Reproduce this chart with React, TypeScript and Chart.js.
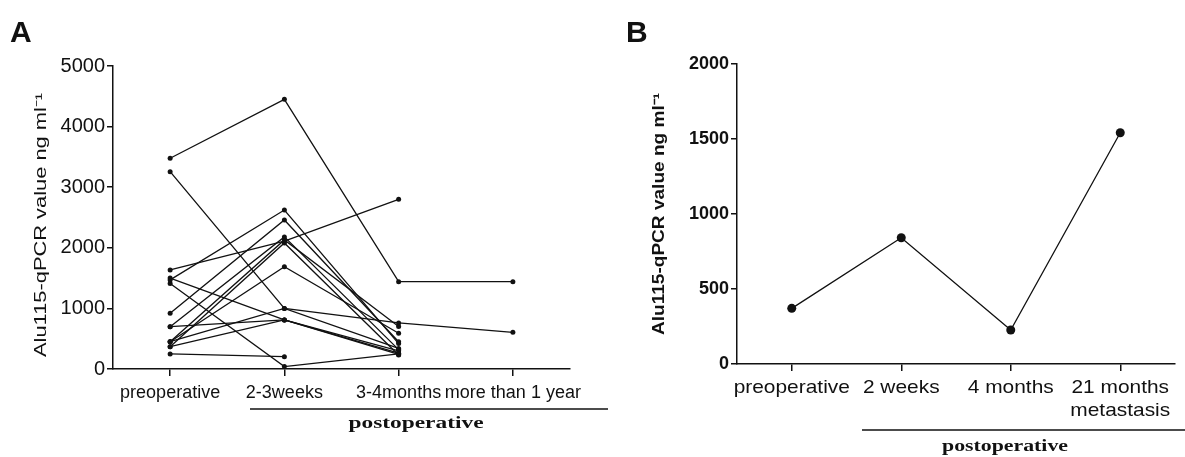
import { useEffect, useRef } from "react";
import { Chart, registerables } from "chart.js";

Chart.register(...registerables);

// ---------- Panel A data ----------
const categoriesA = ["preoperative", "2-3weeks", "3-4months", "more than 1 year"];
const yTicksA = [0, 1000, 2000, 3000, 4000, 5000];
const patient01 = [3477, 4450, 1441, 1441];
const patient02 = [3256, 1000, 760, 606];
const patient03 = [1634, 2110, 2800, null];
const patient04 = [1470, 2624, 420, null];
const patient05 = [1410, 40, 250, null];
const patient06 = [1500, 810, 240, null];
const patient07 = [919, 2459, 450, null];
const patient08 = [698, 2180, 320, null];
const patient09 = [451, 1688, 590, null];
const patient10 = [368, 2080, 230, null];
const patient11 = [451, 2130, 700, null];
const patient12 = [248, 203, null, null];
const patient13 = [368, 810, 260, null];
const patient14 = [698, 810, 300, null];
const patient15 = [451, 1000, 340, null];
const patientsA = [
  patient01, patient02, patient03, patient04, patient05,
  patient06, patient07, patient08, patient09, patient10,
  patient11, patient12, patient13, patient14, patient15,
];

// ---------- Panel B data ----------
const categoriesB = [["preoperative"], ["2 weeks"], ["4 months"], ["21 months", "metastasis"]];
const valuesB = [371, 842, 227, 1542];
const yTicksB = [0, 500, 1000, 1500, 2000];

const yTitle = "Alu115-qPCR value ng ml\u207B\u00B9";
const groupLabel = "postoperative";
const INK = "#111";
const SANS = "'Liberation Sans', Arial, sans-serif";
const SERIF = "'Liberation Serif', 'Times New Roman', serif";

function drawText(
  ctx: CanvasRenderingContext2D,
  text: string,
  x: number,
  y: number,
  font: string,
  opts: { sx?: number; target?: number; rotate?: boolean; align?: CanvasTextAlign; baseline?: CanvasTextBaseline }
) {
  ctx.save();
  ctx.font = font;
  ctx.fillStyle = INK;
  ctx.textAlign = opts.align || "center";
  ctx.textBaseline = opts.baseline || "middle";
  const w = ctx.measureText(text).width;
  let sx = opts.sx || 1;
  if (opts.target) sx = opts.target / w;
  ctx.translate(x, y);
  if (opts.rotate) ctx.rotate(-Math.PI / 2);
  ctx.scale(sx, 1);
  ctx.fillText(text, 0, 0);
  ctx.restore();
}

type Decor = {
  letter: string;
  letterX: number;
  letterY: number;
  titleX: number;
  titleY: number;
  titleLen: number;
  titleFont: string;
  labels: (string | string[])[];
  labelY: number;
  labelLineGap: number;
  labelFont: string;
  labelStretch: number;
  lineX1: number;
  lineX2: number;
  lineY: number;
  groupX: number;
  groupY: number;
  groupLen: number;
  groupFont: string;
};

function decorPlugin(d: Decor) {
  return {
    id: "decor",
    afterDraw(chart: any) {
      const ctx: CanvasRenderingContext2D = chart.ctx;
      const xs = chart.scales.x;
      drawText(ctx, d.letter, d.letterX, d.letterY, `bold 30px ${SANS}`, { align: "left", baseline: "alphabetic" });
      drawText(ctx, yTitle, d.titleX, d.titleY, d.titleFont, { target: d.titleLen, rotate: true });
      d.labels.forEach((lab, i) => {
        const x = xs.getPixelForValue(i);
        const lines = Array.isArray(lab) ? lab : [lab];
        lines.forEach((ln, j) => {
          drawText(ctx, ln, x, d.labelY + j * d.labelLineGap, d.labelFont, { sx: d.labelStretch });
        });
      });
      ctx.save();
      ctx.strokeStyle = INK;
      ctx.lineWidth = 1.5;
      ctx.beginPath();
      ctx.moveTo(d.lineX1, d.lineY);
      ctx.lineTo(d.lineX2, d.lineY);
      ctx.stroke();
      ctx.restore();
      drawText(ctx, groupLabel, d.groupX, d.groupY, d.groupFont, { target: d.groupLen });
    },
  };
}

function axisOptions(yMax: number, yStep: number, yTicks: number[], yWidth: number, xHeight: number, yFont: any) {
  return {
    x: {
      type: "category" as const,
      offset: true,
      afterFit: (s: any) => { s.height = xHeight; },
      border: { display: true, color: INK, width: 1.5 },
      grid: { display: true, drawOnChartArea: false, drawTicks: true, tickLength: 7, color: INK, lineWidth: 1.5 },
      ticks: { display: false },
    },
    y: {
      min: 0,
      max: yMax,
      afterFit: (s: any) => { s.width = yWidth; },
      afterBuildTicks: (s: any) => { s.ticks = yTicks.map((v) => ({ value: v })); },
      border: { display: true, color: INK, width: 1.5 },
      grid: { display: true, drawOnChartArea: false, drawTicks: true, tickLength: 6, color: INK, lineWidth: 1.5 },
      ticks: { stepSize: yStep, color: INK, font: yFont, padding: 2, callback: (v: any) => String(v) },
    },
  };
}

function PanelA() {
  const ref = useRef<HTMLCanvasElement>(null);
  useEffect(() => {
    const chart = new Chart(ref.current!, {
      type: "line",
      data: {
        labels: categoriesA,
        datasets: patientsA.map((p, i) => ({
          label: `patient ${i + 1}`,
          data: p,
          borderColor: INK,
          backgroundColor: INK,
          borderWidth: 1.3,
          pointRadius: 2.5,
          pointBackgroundColor: INK,
          pointBorderWidth: 0,
          spanGaps: false,
        })),
      },
      options: {
        responsive: false,
        animation: false,
        layout: { padding: { top: 66, right: 42, left: 0, bottom: 0 } },
        plugins: { legend: { display: false }, tooltip: { enabled: false } },
        scales: axisOptions(5000, 1000, yTicksA, 113, 88, { size: 20, family: SANS }),
      },
      plugins: [
        decorPlugin({
          letter: "A", letterX: 10, letterY: 42,
          titleX: 42, titleY: 225, titleLen: 264, titleFont: `16px ${SANS}`,
          labels: categoriesA, labelY: 393, labelLineGap: 22, labelFont: `18px ${SANS}`, labelStretch: 1,
          lineX1: 250, lineX2: 608, lineY: 409,
          groupX: 416, groupY: 424, groupLen: 135, groupFont: `bold 17px ${SERIF}`,
        }),
      ],
    });
    return () => chart.destroy();
  }, []);
  return <canvas ref={ref} width={612} height={457} style={{ width: 612, height: 457, display: "block" }} />;
}

function PanelB() {
  const ref = useRef<HTMLCanvasElement>(null);
  useEffect(() => {
    const chart = new Chart(ref.current!, {
      type: "line",
      data: {
        labels: categoriesB as any,
        datasets: [
          {
            label: "patient",
            data: valuesB,
            borderColor: INK,
            backgroundColor: INK,
            borderWidth: 1.3,
            pointRadius: 4.5,
            pointBackgroundColor: INK,
            pointBorderWidth: 0,
          },
        ],
      },
      options: {
        responsive: false,
        animation: false,
        layout: { padding: { top: 64, right: 45, left: 0, bottom: 0 } },
        plugins: { legend: { display: false }, tooltip: { enabled: false } },
        scales: axisOptions(2000, 500, yTicksB, 117, 93, { size: 18, family: SANS, weight: "bold" }),
      },
      plugins: [
        decorPlugin({
          letter: "B", letterX: 6, letterY: 42,
          titleX: 40, titleY: 214, titleLen: 242, titleFont: `bold 16px ${SANS}`,
          labels: categoriesB, labelY: 388, labelLineGap: 23, labelFont: `19px ${SANS}`, labelStretch: 1.1,
          lineX1: 242, lineX2: 600, lineY: 430,
          groupX: 385, groupY: 447, groupLen: 126, groupFont: `bold 17px ${SERIF}`,
        }),
      ],
    });
    return () => chart.destroy();
  }, []);
  return <canvas ref={ref} width={600} height={457} style={{ width: 600, height: 457, display: "block" }} />;
}

export default function App() {
  return (
    <div style={{ position: "fixed", left: 0, top: 0, width: 1185, height: 457, overflow: "hidden", background: "#fff" }}>
      <div style={{ position: "absolute", left: 0, top: 0 }}>
        <PanelA />
      </div>
      <div style={{ position: "absolute", left: 620, top: 0 }}>
        <PanelB />
      </div>
    </div>
  );
}
